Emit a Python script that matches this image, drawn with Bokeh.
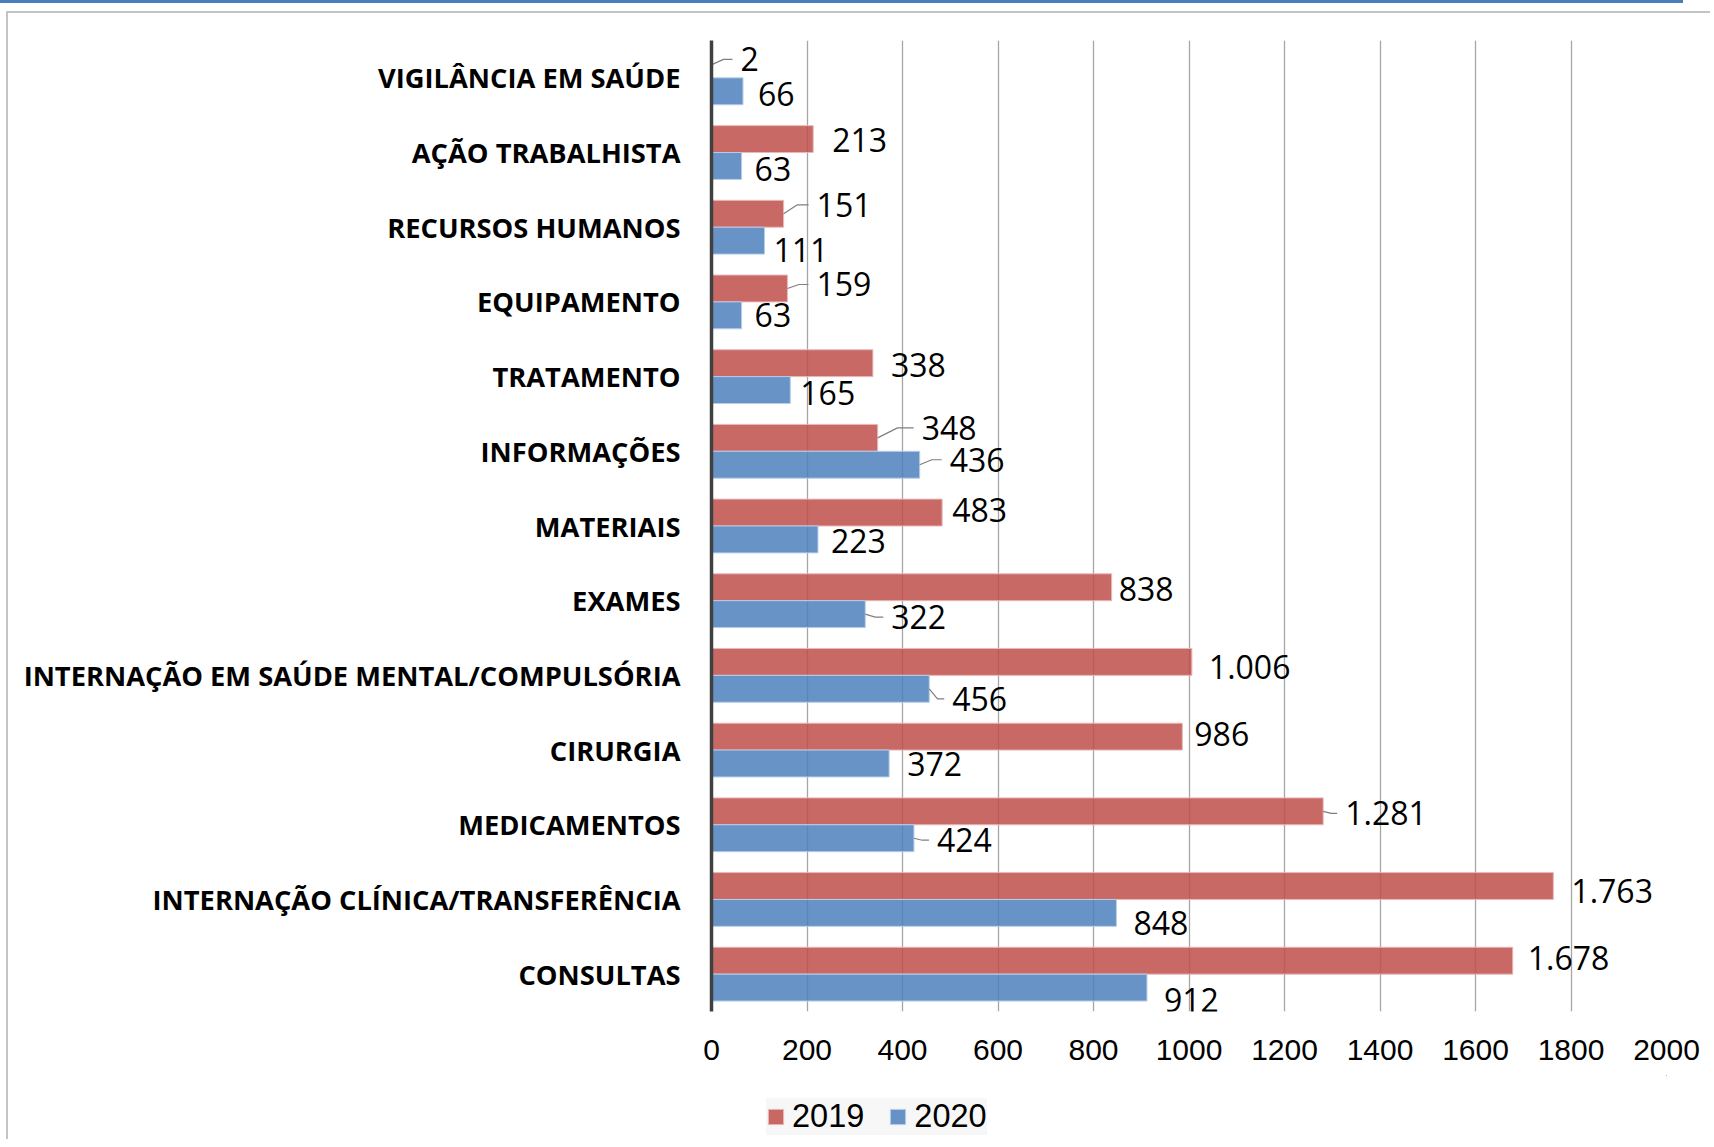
from bokeh.plotting import figure
from bokeh.models import ColumnDataSource, Range1d, FixedTicker, Legend, LegendItem
from bokeh.layouts import column
from bokeh.embed import file_html
from bokeh.resources import INLINE
from bokeh.core.properties import value

# ---------------- data ----------------
categories = [
    "VIGILÂNCIA EM SAÚDE",
    "AÇÃO TRABALHISTA",
    "RECURSOS HUMANOS",
    "EQUIPAMENTO",
    "TRATAMENTO",
    "INFORMAÇÕES",
    "MATERIAIS",
    "EXAMES",
    "INTERNAÇÃO EM SAÚDE MENTAL/COMPULSÓRIA",
    "CIRURGIA",
    "MEDICAMENTOS",
    "INTERNAÇÃO CLÍNICA/TRANSFERÊNCIA",
    "CONSULTAS",
]
values_2019 = [2, 213, 151, 159, 338, 348, 483, 838, 1006, 986, 1281, 1763, 1678]
values_2020 = [66, 63, 111, 63, 165, 436, 223, 322, 456, 372, 424, 848, 912]
series_names = ["2019", "2020"]
x_ticks = [0, 200, 400, 600, 800, 1000, 1200, 1400, 1600, 1800, 2000]
x_max = 2000

# ---------------- layout (pixels) ----------------
W, H = 1704, 1064
MB_L, MB_R, MB_T, MB_B = 703, 46, 27, 66
frame_w = W - MB_L - MB_R
frame_h = H - MB_T - MB_B
n = len(categories)
px_x = frame_w / x_max
px_y = frame_h / n
BAR_OFF = 0.18
BAR_H = 0.36

# label placement offsets (pixels from bar end / bar centre), Excel "best fit" look
DX19 = [28, 19, 33, 29, 18, 44, 10, 7, 17, 12, 22, 18, 15]
DY19 = [-5, 1, -9, -4, 2, -10, -3, 2, 5, -3, 2, 5, -3]
DX20 = [15, 13, 9, 13, 10, 30, 13, 26, 23, 18, 23, 17, 17]
DY20 = [3, 3, 9, 0, 3, -5, 2, 3, 10, 0, 2, 10, 12]
LEAD19 = [0, 2, 3, 5, 10]
LEAD20 = [5, 7, 8, 10]

RED = "#C0504D"
BLUE = "#4F81BD"
RED_EDGE = "#e8b8b8"
BLUE_EDGE = "#b8cde8"
BORDER = "2px solid #c4c4c4"


def fmt(v):
    return f"{v:,}".replace(",", ".")


idx = list(range(n))
y19 = [i - BAR_OFF for i in idx]
y20 = [i + BAR_OFF for i in idx]

src19 = ColumnDataSource(dict(y=y19, v=values_2019,
                              lx=[v + d / px_x for v, d in zip(values_2019, DX19)],
                              ly=[y + d / px_y for y, d in zip(y19, DY19)],
                              t=[fmt(v) for v in values_2019]))
src20 = ColumnDataSource(dict(y=y20, v=values_2020,
                              lx=[v + d / px_x for v, d in zip(values_2020, DX20)],
                              ly=[y + d / px_y for y, d in zip(y20, DY20)],
                              t=[fmt(v) for v in values_2020]))

p = figure(width=W, height=H, output_backend="svg", toolbar_location=None,
           x_range=Range1d(0, x_max), y_range=Range1d(n - 0.5, -0.5),
           min_border_left=MB_L, min_border_right=MB_R,
           min_border_top=MB_T, min_border_bottom=MB_B,
           background_fill_color="white", border_fill_color="white",
           styles={"border-left": BORDER, "border-top": BORDER})
p.margin = (8, 0, 0, 6)
p.outline_line_color = None

bar_style19 = dict(fill_color=RED, fill_alpha=0.86, line_color=RED_EDGE, line_width=1)
bar_style20 = dict(fill_color=BLUE, fill_alpha=0.86, line_color=BLUE_EDGE, line_width=1)

p.hbar(y="y", right="v", left=0, height=BAR_H, source=src19, **bar_style19)
p.hbar(y="y", right="v", left=0, height=BAR_H, source=src20, **bar_style20)

# leader lines
xs, ys = [], []
for src_vals, ylist, dx, lab_y, lead in ((values_2019, y19, DX19, src19.data["ly"], LEAD19),
                                         (values_2020, y20, DX20, src20.data["ly"], LEAD20)):
    for i in lead:
        v = src_vals[i]
        bx = v + max(8, (dx[i] - 8) * 0.55) / px_x
        cx = v + (dx[i] - 8) / px_x
        xs.append([v, bx, cx])
        ys.append([ylist[i], lab_y[i], lab_y[i]])
p.multi_line(xs=xs, ys=ys, line_color="#7f7f7f", line_width=1.2)

for src in (src19, src20):
    p.text(x="lx", y="ly", text="t", source=src, text_align="left", text_baseline="middle",
           text_font=value("Open Sans"), text_font_size="32px", text_color="#000000")

# axes
p.xaxis.ticker = FixedTicker(ticks=x_ticks)
p.xgrid.ticker = FixedTicker(ticks=x_ticks)
p.xaxis.axis_line_color = None
p.xaxis.major_tick_line_color = None
p.xaxis.minor_tick_line_color = None
p.xaxis.major_tick_out = 0
p.xaxis.major_label_standoff = 28
p.xaxis.major_label_text_font = "Liberation Sans"
p.xaxis.major_label_text_font_size = "30px"
p.xaxis.major_label_text_color = "#000000"

p.yaxis.ticker = FixedTicker(ticks=idx)
p.yaxis.major_label_overrides = {i: c for i, c in zip(idx, categories)}
p.yaxis.axis_line_color = "#404040"
p.yaxis.axis_line_width = 3.5
p.yaxis.major_tick_line_color = None
p.yaxis.minor_tick_line_color = None
p.yaxis.major_tick_out = 0
p.yaxis.major_label_standoff = 31
p.yaxis.major_label_text_font = "Open Sans"
p.yaxis.major_label_text_font_style = "bold"
p.yaxis.major_label_text_font_size = "27.3px"
p.yaxis.major_label_text_color = "#000000"

p.xgrid.grid_line_color = "#a6a6a6"
p.xgrid.grid_line_width = 1.3
p.ygrid.grid_line_color = None

# ---------------- legend strip below the chart ----------------
# proxy renderers share the series sources; the strip's ranges lie far outside the data,
# so only the legend swatches are visible.
LH = 64
pl = figure(width=W, height=LH, output_backend="svg", toolbar_location=None, title=None,
            x_range=Range1d(-1e6, -1e6 + 1), y_range=Range1d(-1e6, -1e6 + 1),
            x_axis_type=None, y_axis_type=None,
            min_border_left=0, min_border_right=0, min_border_top=0, min_border_bottom=0,
            background_fill_color="white", border_fill_color="white",
            styles={"border-left": BORDER})
pl.margin = (0, 0, 0, 6)
pl.outline_line_color = None
pl.grid.grid_line_color = None
k19 = pl.hbar(y="y", right="v", left=0, height=BAR_H, source=src19, **bar_style19)
k20 = pl.hbar(y="y", right="v", left=0, height=BAR_H, source=src20, **bar_style20)
legend = Legend(items=[LegendItem(label=series_names[0], renderers=[k19]),
                       LegendItem(label=series_names[1], renderers=[k20])],
                location=(55, 4), orientation="horizontal",
                background_fill_color="#f7f7f7", background_fill_alpha=1.0,
                border_line_color=None, glyph_width=19, glyph_height=19,
                label_standoff=7, spacing=24, padding=14, margin=0,
                label_text_font="Liberation Sans", label_text_font_size="32.5px",
                label_text_color="#000000")
pl.add_layout(legend)

layout = column(p, pl, styles={"padding-top": "3px",
                               "background-image": "linear-gradient(#4a7ebb, #4a7ebb)",
                               "background-repeat": "no-repeat",
                               "background-size": "1683px 3px",
                               "background-position": "0 0"})

open("out.html", "w").write(file_html(layout, INLINE))
